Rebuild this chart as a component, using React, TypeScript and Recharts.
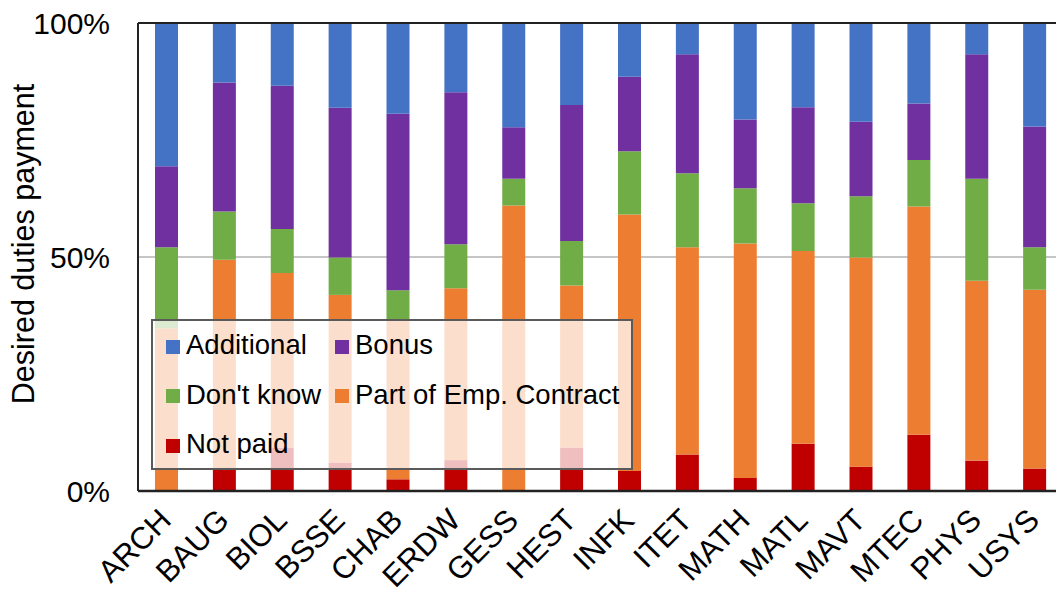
import { BarChart, Bar, XAxis, YAxis, CartesianGrid, ReferenceLine } from "recharts";

const categories = ["ARCH", "BAUG", "BIOL", "BSSE", "CHAB", "ERDW", "GESS", "HEST", "INFK", "ITET", "MATH", "MATL", "MAVT", "MTEC", "PHYS", "USYS"];

// shares in %, stacked bottom -> top
const notPaid = [0, 4.5, 9.3, 6.1, 2.5, 6.6, 0, 9.3, 4.3, 7.8, 2.8, 10.1, 5.2, 12.0, 6.5, 4.8];
const partOfContract = [34.8, 44.9, 37.3, 35.8, 34.2, 36.7, 61.0, 34.6, 54.8, 44.3, 50.1, 41.2, 44.7, 48.8, 38.4, 38.2];
const dontKnow = [17.3, 10.3, 9.4, 8.0, 6.2, 9.4, 5.7, 9.5, 13.5, 15.8, 11.8, 10.2, 13.1, 9.9, 21.8, 9.1];
const bonus = [17.3, 27.6, 30.6, 32.0, 37.7, 32.5, 11.0, 29.1, 15.9, 25.4, 14.7, 20.5, 15.9, 12.1, 26.6, 25.8];
const additional = [30.6, 12.7, 13.4, 18.1, 19.4, 14.8, 22.3, 17.5, 11.5, 6.7, 20.6, 18.0, 21.1, 17.2, 6.7, 22.1];

const yTicks = [0, 50, 100];

const series = [
  { key: "notPaid", name: "Not paid", color: "#C00000", values: notPaid },
  { key: "partOfContract", name: "Part of Emp. Contract", color: "#ED7D31", values: partOfContract },
  { key: "dontKnow", name: "Don't know", color: "#70AD47", values: dontKnow },
  { key: "bonus", name: "Bonus", color: "#7030A0", values: bonus },
  { key: "additional", name: "Additional", color: "#4472C4", values: additional },
];

const data = categories.map((dept, i) => {
  const row: Record<string, any> = { dept };
  series.forEach((s) => (row[s.key] = s.values[i]));
  return row;
});

const FONT = '"Liberation Sans", Arial, sans-serif';

// legend grid as in the original (2 columns)
const legendLayout = [
  ["additional", "bonus"],
  ["dontKnow", "partOfContract"],
  ["notPaid"],
];

function XTick(props: any) {
  const { x, y, payload } = props;
  const tx = x + 6;
  const ty = y + 31;
  return (
    <text x={tx} y={ty} transform={`rotate(-45, ${tx}, ${ty})`} textAnchor="end" fontSize={31} fontFamily={FONT} fill="#000">
      {payload.value}
    </text>
  );
}

function YLabel(props: any) {
  const vb = props.viewBox || { y: 23, height: 468 };
  const cx = 34;
  const cy = vb.y + vb.height / 2 - 13;
  return (
    <text x={cx} y={cy} transform={`rotate(-90, ${cx}, ${cy})`} textAnchor="middle" fontSize={30.5} fontFamily={FONT} fill="#000">
      Desired duties payment
    </text>
  );
}

function LegendBox() {
  return (
    <div
      style={{
        position: "absolute",
        left: 151,
        top: 319,
        width: 482,
        height: 151,
        boxSizing: "border-box",
        border: "2px solid #5a5a5a",
        background: "rgba(255,255,255,0.75)",
        fontFamily: FONT,
        fontSize: 27.5,
        color: "#000",
      }}
    >
      {legendLayout.map((row, r) =>
        row.map((key, c) => {
          const s = series.find((d) => d.key === key)!;
          return (
            <div
              key={key}
              style={{
                position: "absolute",
                left: c === 0 ? 13 : 182,
                top: 9 + r * 49.5,
                height: 30,
                display: "flex",
                alignItems: "center",
                whiteSpace: "nowrap",
                lineHeight: 1,
              }}
            >
              <span style={{ display: "inline-block", width: 14, height: 14, background: s.color, marginRight: 6, marginTop: 3 }} />
              <span>{s.name}</span>
            </div>
          );
        })
      )}
    </div>
  );
}

export default function App() {
  return (
    <div style={{ position: "absolute", left: 0, top: 0, width: 1056, height: 594, overflow: "hidden", background: "#fff" }}>
      <BarChart width={1064} height={594} data={data} margin={{ top: 23, right: 0, bottom: 0, left: 0 }} barSize={23}>
        <CartesianGrid vertical={false} stroke="#8c8c8c" strokeWidth={1} />
        <XAxis
          dataKey="dept"
          interval={0}
          height={103}
          tickLine={false}
          tickSize={0}
          tickMargin={0}
          axisLine={{ stroke: "#222", strokeWidth: 2.5 }}
          tick={<XTick />}
        />
        <YAxis
          width={138}
          domain={[0, 100]}
          ticks={yTicks}
          allowDataOverflow
          tickFormatter={(v) => `${v}%`}
          tickLine={false}
          tickSize={0}
          tickMargin={28}
          axisLine={{ stroke: "#222", strokeWidth: 2 }}
          tick={{ fontSize: 30, fontFamily: FONT, fill: "#000" }}
          label={<YLabel />}
        />
        {series.map((s) => (
          <Bar key={s.key} dataKey={s.key} name={s.name} stackId="a" fill={s.color} isAnimationActive={false} />
        ))}
        <ReferenceLine y={100} stroke="#222" strokeWidth={2} />
      </BarChart>
      <LegendBox />
    </div>
  );
}
